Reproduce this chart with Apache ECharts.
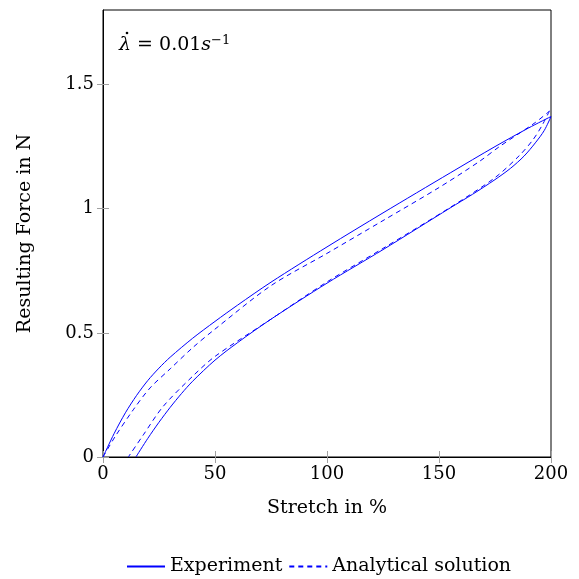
<!DOCTYPE html>
<html>
<head>
    <meta charset="UTF-8">
    <title>Stretch vs force</title>
    <script src="https://cdn.jsdelivr.net/npm/echarts@6/dist/echarts.min.js"></script>
</head>
<body style="margin:0">
    <div id="main" style="width: 579px;height:579px;"></div>
    <script type="text/javascript">
        var myChart = echarts.init(document.getElementById('main'));

        // Experiment: loading branch, then unloading branch
        var expLoadX = [0, 5, 10, 15, 20, 25, 30, 40, 50, 60, 75, 100, 125, 155, 175, 190, 200];
        var expLoadY = [0, 0.095, 0.178, 0.248, 0.308, 0.358, 0.402, 0.478, 0.546, 0.611, 0.704, 0.846, 0.983, 1.144, 1.25, 1.325, 1.371];
        var expUnloadX = [200, 197, 193, 188, 182, 175, 165, 155, 125, 100, 75, 60, 50, 40, 35, 30, 25, 20, 14.7];
        var expUnloadY = [1.371, 1.315, 1.265, 1.212, 1.163, 1.117, 1.058, 1.003, 0.835, 0.70, 0.555, 0.46, 0.39, 0.305, 0.255, 0.2, 0.14, 0.075, 0];

        // Analytical solution
        var anaLoadX = [0, 5.4, 13.5, 21, 30, 40, 50, 75, 100, 125, 150, 168, 177, 193, 199.3];
        var anaLoadY = [0, 0.082, 0.19, 0.278, 0.355, 0.44, 0.515, 0.69, 0.82, 0.952, 1.085, 1.19, 1.25, 1.347, 1.393];
        var anaUnloadX = [199.3, 196, 192, 186, 175, 155, 125, 100, 75, 50, 40, 26.8, 18, 11.3];
        var anaUnloadY = [1.393, 1.335, 1.278, 1.215, 1.125, 1.005, 0.84, 0.705, 0.555, 0.405, 0.325, 0.203, 0.089, 0];

        var xTicks = [0, 50, 100, 150, 200];
        var yTicks = [0, 0.5, 1, 1.5];

        function pairs(xs, ys) {
            return xs.map(function (x, i) { return [x, ys[i]]; });
        }

        var font = 'DejaVu Serif';
        var blue = '#0000ff';

        function curve(name, data, dashed) {
            return {
                name: name,
                type: 'line',
                data: data,
                smooth: 0.3,
                symbol: 'none',
                lineStyle: { color: blue, width: 1, type: dashed ? [5, 4] : 'solid' },
                itemStyle: { color: blue },
                z: dashed ? 3 : 2
            };
        }

        function ticks(values) {
            return { show: true, inside: true, length: 6, customValues: values, lineStyle: { color: '#a0a0a0' } };
        }

        var option = {
            animation: false,
            grid: {
                left: 103, right: 28, top: 10, bottom: 122,
                show: true, borderColor: '#000', borderWidth: 1
            },
            legend: {
                top: 552,
                left: 121,
                itemWidth: 38,
                itemHeight: 12,
                itemGap: 6,
                itemStyle: { opacity: 0 },
                textStyle: { fontFamily: font, fontSize: 19, color: '#000' },
                data: ['Experiment', 'Analytical solution']
            },
            xAxis: [{
                type: 'value',
                min: 0, max: 200, interval: 50,
                name: 'Stretch in %',
                nameLocation: 'middle',
                nameGap: 42,
                nameTextStyle: { fontFamily: font, fontSize: 19, color: '#000' },
                axisLine: { lineStyle: { color: '#000' } },
                axisTick: ticks(xTicks),
                axisLabel: {
                    fontFamily: font, fontSize: 18, color: '#000', margin: 8,
                    customValues: xTicks
                },
                splitLine: { show: false }
            }, {
                type: 'value', position: 'top',
                min: 0, max: 200, interval: 50,
                axisLine: { show: false },
                axisTick: ticks(xTicks),
                axisLabel: { show: false },
                splitLine: { show: false }
            }],
            yAxis: [{
                type: 'value',
                min: 0, max: 1.8, interval: 0.5,
                name: 'Resulting Force in N',
                nameLocation: 'middle',
                nameGap: 68,
                nameTextStyle: { fontFamily: font, fontSize: 19, color: '#000' },
                axisLine: { lineStyle: { color: '#000' } },
                axisTick: ticks(yTicks),
                axisLabel: {
                    fontFamily: font, fontSize: 18, color: '#000', margin: 9,
                    customValues: yTicks
                },
                splitLine: { show: false }
            }, {
                type: 'value', position: 'right',
                min: 0, max: 1.8, interval: 0.5,
                axisLine: { show: false },
                axisTick: ticks(yTicks),
                axisLabel: { show: false },
                splitLine: { show: false }
            }],
            graphic: [{
                type: 'text',
                left: 119,
                top: 34,
                style: {
                    text: '{i|λ} = 0.01{i|s}{sup|−1}',
                    fontFamily: font,
                    fontSize: 19,
                    fill: '#000',
                    rich: {
                        i: { fontFamily: font, fontSize: 19, fontStyle: 'italic' },
                        sup: { fontFamily: font, fontSize: 13, verticalAlign: 'top', padding: [0, 0, 10, 0] }
                    }
                }
            }, {
                // dot accent over lambda
                type: 'circle',
                shape: { cx: 127, cy: 33, r: 1.3 },
                style: { fill: '#000' }
            }],
            series: [
                curve('Experiment', pairs(expLoadX, expLoadY), false),
                curve('Experiment', pairs(expUnloadX, expUnloadY), false),
                curve('Analytical solution', pairs(anaLoadX, anaLoadY), true),
                curve('Analytical solution', pairs(anaUnloadX, anaUnloadY), true)
            ]
        };

        myChart.setOption(option);
    </script>
</body>
</html>
